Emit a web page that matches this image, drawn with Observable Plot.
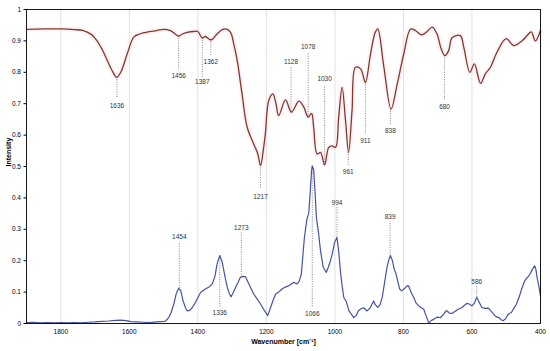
<!DOCTYPE html>
<html><head><meta charset="utf-8">
<script src="https://cdn.jsdelivr.net/npm/d3@7"></script>
<script src="https://cdn.jsdelivr.net/npm/@observablehq/plot@0.6"></script>
<style>body{margin:0;background:#fff;} svg{font-family:"Liberation Sans",Arial,sans-serif;}</style>
</head><body><div id="chart"></div>
<script>
// Red (upper) spectrum
const redWn  = [1900,1850,1800,1760,1734,1710,1694,1678,1664,1650,1637,1625,1606,1587,1570,1548,1520,1499,1480,1466,1456,1445,1431,1412,1400,1387,1378,1361,1344,1330,1319,1305,1295,1285,1271,1256,1237,1225,1217,1208,1203,1193,1181,1172,1164,1144,1127,1105,1091,1078,1068,1062,1052,1042,1030,1018,1008,998,989,979,969,960,950,940,925,911,896,882,875,857,836,818,799,779,765,747,731,716,702,690,679,668,658,634,624,606,593,575,561,546,527,500,478,453,439,427,415,400];
const redVal = [0.937,0.938,0.938,0.936,0.933,0.92,0.90,0.87,0.837,0.805,0.784,0.80,0.859,0.912,0.922,0.928,0.933,0.937,0.933,0.922,0.915,0.922,0.927,0.93,0.93,0.909,0.914,0.903,0.922,0.935,0.938,0.928,0.89,0.837,0.731,0.625,0.572,0.54,0.503,0.56,0.604,0.71,0.731,0.70,0.662,0.712,0.673,0.708,0.69,0.657,0.669,0.625,0.54,0.545,0.505,0.561,0.566,0.561,0.657,0.752,0.646,0.545,0.678,0.816,0.811,0.768,0.859,0.928,0.938,0.816,0.683,0.763,0.859,0.938,0.933,0.919,0.93,0.944,0.922,0.875,0.853,0.869,0.91,0.917,0.88,0.80,0.827,0.765,0.795,0.816,0.864,0.907,0.885,0.901,0.917,0.929,0.90,0.933];

// Blue (lower) spectrum
const blueWn  = [1900,1880,1860,1840,1820,1800,1780,1760,1740,1720,1700,1680,1660,1640,1625,1610,1595,1580,1560,1540,1520,1500,1494,1485,1478,1470,1463,1456,1450,1443,1436,1431,1424,1416,1408,1402,1392,1378,1365,1358,1350,1344,1336,1330,1326,1320,1314,1308,1303,1297,1290,1283,1276,1268,1261,1251,1244,1237,1228,1217,1205,1196,1188,1180,1173,1164,1154,1145,1135,1128,1120,1110,1104,1098,1089,1082,1076,1072,1068,1066,1062,1058,1054,1048,1042,1034,1025,1019,1013,1007,1001,994,989,984,979,974,967,959,952,945,938,932,925,916,906,897,887,882,875,868,862,855,848,842,838,832,827,822,817,811,805,796,790,785,778,770,763,755,748,741,734,726,718,711,702,692,682,676,672,666,658,650,639,630,622,615,608,600,593,586,580,571,562,552,545,537,530,520,515,509,502,494,485,478,470,462,455,446,440,435,431,425,417,413,410,405,400];
const blueVal = [0.003,0.004,0.002,0.003,0.002,0.003,0.002,0.003,0.002,0.004,0.005,0.007,0.008,0.01,0.011,0.009,0.006,0.005,0.004,0.003,0.005,0.007,0.008,0.019,0.035,0.062,0.095,0.112,0.105,0.072,0.05,0.04,0.042,0.051,0.065,0.078,0.099,0.11,0.118,0.126,0.15,0.189,0.216,0.2,0.179,0.145,0.115,0.095,0.085,0.098,0.115,0.13,0.147,0.15,0.149,0.126,0.11,0.094,0.08,0.062,0.04,0.025,0.05,0.075,0.094,0.1,0.11,0.116,0.12,0.125,0.131,0.126,0.135,0.157,0.274,0.33,0.354,0.42,0.487,0.502,0.49,0.42,0.338,0.29,0.232,0.179,0.163,0.18,0.2,0.225,0.258,0.274,0.23,0.168,0.12,0.083,0.07,0.04,0.03,0.019,0.025,0.04,0.046,0.05,0.04,0.05,0.072,0.06,0.051,0.06,0.083,0.13,0.179,0.205,0.216,0.2,0.173,0.16,0.136,0.11,0.104,0.112,0.12,0.12,0.1,0.083,0.065,0.056,0.05,0.046,0.025,0.002,0.01,0.014,0.02,0.019,0.03,0.04,0.04,0.033,0.032,0.038,0.046,0.05,0.058,0.064,0.062,0.056,0.065,0.083,0.07,0.051,0.048,0.049,0.04,0.03,0.022,0.018,0.012,0.009,0.015,0.03,0.035,0.048,0.062,0.085,0.11,0.136,0.145,0.15,0.157,0.17,0.184,0.17,0.147,0.12,0.088];

// Peak annotations: wavenumber, label, curve value, end of leader, label value
const annoWn    = [1636,1456,1387,1362,1217,1128,1078,1030,961,911,838,680, 1454,1336,1273,1066,994,839,586];
const annoLabel = ["1636","1456","1387","1362","1217","1128","1078","1030","961","911","838","680", "1454","1336","1273","1066","994","839","586"];
const annoCurve = [0.784,0.915,0.909,0.903,0.503,0.673,0.657,0.505,0.545,0.768,0.683,0.853, 0.112,0.216,0.147,0.50,0.274,0.216,0.083];
const annoEnd   = [0.716,0.806,0.783,0.853,0.429,0.816,0.864,0.758,0.503,0.605,0.630,0.710, 0.258,0.051,0.289,0.051,0.369,0.324,0.117];
const annoText  = [0.694,0.787,0.768,0.832,0.404,0.832,0.880,0.779,0.484,0.583,0.612,0.689, 0.276,0.035,0.306,0.030,0.383,0.340,0.133];

const xTicks = [1800,1600,1400,1200,1000,800,600,400];
const yTicks = [0,0.1,0.2,0.3,0.4,0.5,0.6,0.7,0.8,0.9,1];

const red = redWn.map((w,i)=>({w, v:redVal[i]}));
const blue = blueWn.map((w,i)=>({w, v:blueVal[i]}));
const annos = annoWn.map((w,i)=>({w, label:annoLabel[i], c:annoCurve[i], e:annoEnd[i], t:annoText[i]}));

const chart = Plot.plot({
  width:550, height:351,
  marginLeft:26, marginRight:10, marginTop:9, marginBottom:28,
  style:{fontFamily:"Liberation Sans, Arial, sans-serif", background:"#fff"},
  x:{domain:[1900,400]},
  y:{domain:[0,1]},
  marks:[
    Plot.gridX(xTicks, {stroke:"#d9d9d9", strokeOpacity:1, strokeWidth:0.8}),
    Plot.line(red, {x:"w", y:"v", curve:"catmull-rom", stroke:"#f9d6e2", strokeWidth:5, strokeOpacity:0.35}),
    Plot.ruleX(annos, {x:"w", y1:"c", y2:"e", stroke:"#666", strokeWidth:0.8, strokeDasharray:"1,1.4"}),
    Plot.line(red, {x:"w", y:"v", curve:"catmull-rom", stroke:"#7e3a2c", strokeWidth:1.3}),
    Plot.line(blue, {x:"w", y:"v", stroke:"#47539d", strokeWidth:1.2}),
    Plot.text(annos, {x:"w", y:"t", text:"label", fontSize:6.5, fill:"#333"}),
    Plot.frame({stroke:"#000", strokeWidth:0.9}),
    Plot.axisY({ticks:yTicks, tickSize:2.5, tickPadding:3, fontSize:6.5, label:null,
      tickFormat:d=> d===0?"0":d===1?"1":d.toFixed(1)}),
    Plot.axisX({ticks:xTicks, tickSize:0, tickPadding:6, fontSize:6.5, label:null, tickFormat:d=>String(d)}),
    Plot.text(["Wavenumber [cm\u207B\u00B9]"], {frameAnchor:"bottom", dy:20, fontSize:7, fontWeight:"bold", fill:"#000"}),
    Plot.text(["Intensity"], {frameAnchor:"left", dx:-18, rotate:-90, fontSize:7, fontWeight:"bold", fill:"#000"})
  ]
});
document.getElementById("chart").append(chart);
</script>
</body></html>
